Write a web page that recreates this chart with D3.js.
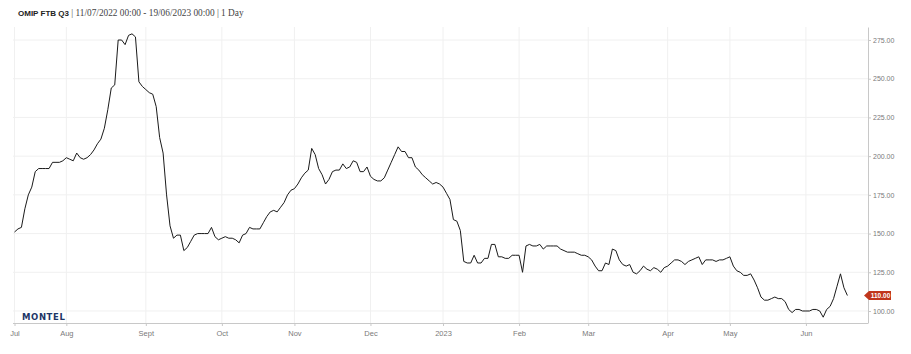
<!DOCTYPE html>
<html>
<head>
<meta charset="utf-8">
<script src="https://cdn.jsdelivr.net/npm/d3@7"></script>
<style>
    body { margin: 0; background: #fff; }
    #chart { width: 911px; height: 354px; }
    .axis text { font-family: "Liberation Sans", Arial, sans-serif; font-size: 7px; fill: #7a7a7a; }
    .axis path, .axis line { stroke: #c8c8c8; }
    .grid line { stroke: #f0f0f0; }
</style>
</head>
<body>
<div id="chart"></div>
<script>
// series info
const titleName = "OMIP FTB Q3";
const titleRest = " | 11/07/2022 00:00 - 19/06/2023 00:00 | 1 Day";
const startDate = "2022-07-11";
const endDate = "2023-06-19";
const holidays = ["2022-12-26", "2023-04-07", "2023-04-10", "2023-05-01"];

// daily settlement prices, one per trading day
const prices = [
    151, 153, 154, 166, 175, 180, 190, 192, 192, 192,
    192, 196, 196, 196, 197, 199, 198, 197, 202, 199,
    198, 199, 201, 204, 208, 211, 218, 230, 244, 246,
    275, 275, 272, 278, 279, 277, 248, 245, 243, 241,
    240, 232, 212, 202, 175, 155, 147, 149, 149, 139,
    141, 145, 149, 150, 150, 150, 150, 154, 148, 146,
    147, 148, 147, 147, 146, 144, 149, 150, 154, 153,
    153, 153, 157, 161, 164, 165, 164, 167, 170, 175,
    178, 179, 182, 186, 189, 191, 205, 201, 192, 188,
    182, 185, 190, 191, 191, 195, 192, 193, 197, 196,
    190, 190, 193, 187, 185, 184, 184, 186, 191, 196,
    201, 206, 203, 203, 199, 199, 193, 191, 188, 186,
    184, 182, 183, 182, 180, 176, 172, 159, 158, 152,
    132, 131, 131, 136, 131, 131, 134, 134, 143, 143,
    135, 135, 134, 134, 136, 136, 136, 125, 142, 143,
    142, 142, 143, 140, 142, 142, 142, 142, 140, 139,
    138, 138, 138, 137, 136, 136, 135, 133, 129, 126,
    126, 131, 130, 140, 139, 133, 130, 129, 130, 125,
    124, 126, 129, 127, 126, 128, 127, 125, 128, 129,
    131, 133, 133, 132, 130, 132, 133, 134, 135, 130,
    133, 133, 133, 132, 133, 133, 134, 135, 129, 126,
    125, 123, 123, 124, 120, 115, 109, 107, 107, 108,
    109, 108, 108, 106, 101, 99, 101, 101, 100, 100,
    100, 101, 101, 100, 96, 101, 103, 108, 116, 124,
    115, 110
];

const monthStarts = ["2022-07-11", "2022-08-01", "2022-09-01", "2022-10-03", "2022-11-01", "2022-12-01",
    "2023-01-02", "2023-02-01", "2023-03-01", "2023-04-03", "2023-05-02", "2023-06-01"];
const monthLabels = ["Jul", "Aug", "Sept", "Oct", "Nov", "Dec", "2023", "Feb", "Mar", "Apr", "May", "Jun"];
const yTicks = [100, 125, 150, 175, 200, 225, 250, 275];

class PriceChart {
    constructor(parentElement) {
        this.parentElement = parentElement;
        this.initVis();
    }

    initVis() {
        let vis = this;

        vis.margin = {top: 27, right: 43, bottom: 31, left: 13};
        vis.width = 911 - vis.margin.left - vis.margin.right;
        vis.height = 354 - vis.margin.top - vis.margin.bottom;

        vis.root = d3.select("#" + vis.parentElement).append("svg")
            .attr("width", 911)
            .attr("height", 354);

        vis.svg = vis.root.append("g")
            .attr("transform", "translate(" + vis.margin.left + "," + vis.margin.top + ")");

        // title
        let title = vis.root.append("text")
            .attr("x", 18)
            .attr("y", 16);
        title.append("tspan")
            .attr("font-family", "'Liberation Sans', Arial, sans-serif")
            .attr("font-weight", "bold")
            .attr("font-size", "8px")
            .attr("fill", "#222")
            .text(titleName);
        title.append("tspan")
            .attr("font-family", "'Liberation Serif', Georgia, serif")
            .attr("font-size", "9.3px")
            .attr("fill", "#444")
            .text(titleRest);

        vis.wrangleData();
    }

    wrangleData() {
        let vis = this;
        let fmt = d3.timeFormat("%Y-%m-%d");
        let days = d3.timeDay.range(d3.timeParse("%Y-%m-%d")(startDate), d3.timeDay.offset(d3.timeParse("%Y-%m-%d")(endDate), 1))
            .filter(d => d.getDay() !== 0 && d.getDay() !== 6 && !holidays.includes(fmt(d)));

        vis.dayIndex = new Map(days.map((d, i) => [fmt(d), i]));
        vis.displayData = prices.map((p, i) => ({date: days[i], idx: i, value: p}));

        vis.updateVis();
    }

    updateVis() {
        let vis = this;
        let n = vis.displayData.length;

        vis.x = d3.scaleLinear()
            .domain([0, n - 1])
            .range([1.5, 1.5 + (n - 1) * 3.456]);

        vis.y = d3.scaleLinear()
            .domain([92.25, 283.4])
            .range([vis.height, 0]);

        let tickIdx = monthStarts.map(d => vis.dayIndex.get(d));

        // grid
        vis.svg.append("g").attr("class", "grid")
            .selectAll("line.h").data(yTicks).enter().append("line")
            .attr("x1", 0).attr("x2", vis.width)
            .attr("y1", d => vis.y(d)).attr("y2", d => vis.y(d));
        vis.svg.append("g").attr("class", "grid")
            .selectAll("line.v").data(tickIdx).enter().append("line")
            .attr("x1", d => vis.x(d)).attr("x2", d => vis.x(d))
            .attr("y1", 0).attr("y2", vis.height);

        // axes
        vis.svg.append("g").attr("class", "axis")
            .attr("transform", "translate(0," + vis.height + ")")
            .call(d3.axisBottom(vis.x).tickValues(tickIdx).tickSize(3).tickSizeOuter(0).tickPadding(5)
                .tickFormat((d, i) => monthLabels[i]))
            .call(g => g.select(".domain").attr("d", "M0,0.5H" + vis.width))
            .call(g => g.selectAll("text").style("font-size", "7.5px"));

        vis.svg.append("g").attr("class", "axis")
            .attr("transform", "translate(" + vis.width + ",0)")
            .call(d3.axisRight(vis.y).tickValues(yTicks).tickSize(3).tickSizeOuter(0)
                .tickFormat(d3.format(".2f")))
            .call(g => g.selectAll("text").attr("x", 5));

        // logo
        vis.svg.append("text")
            .attr("x", 9)
            .attr("y", vis.height - 3)
            .attr("font-family", "'DejaVu Sans', sans-serif")
            .attr("font-weight", "bold")
            .attr("font-size", "8.5px")
            .attr("letter-spacing", "0.6px")
            .attr("fill", "#1d3566")
            .text("MONTEL");

        // price line
        let line = d3.line()
            .x(d => vis.x(d.idx))
            .y(d => vis.y(d.value));

        vis.svg.append("path")
            .datum(vis.displayData)
            .attr("fill", "none")
            .attr("stroke", "#1a1a1a")
            .attr("stroke-width", 1)
            .attr("d", line);

        // last value marker
        let last = vis.displayData[n - 1];
        let ly = vis.y(last.value);
        let marker = vis.svg.append("g")
            .attr("transform", "translate(" + (vis.width - 4) + "," + ly + ")");
        marker.append("path")
            .attr("d", "M0,0L5,-4.5H27V4.5H5Z")
            .attr("fill", "#c0361c");
        marker.append("text")
            .attr("x", 16.5)
            .attr("y", 2.4)
            .attr("text-anchor", "middle")
            .attr("font-family", "'Liberation Sans', Arial, sans-serif")
            .attr("font-size", "6.5px")
            .attr("font-weight", "bold")
            .attr("fill", "#fff")
            .text(d3.format(".2f")(last.value));
    }
}

new PriceChart("chart");
</script>
</body>
</html>
